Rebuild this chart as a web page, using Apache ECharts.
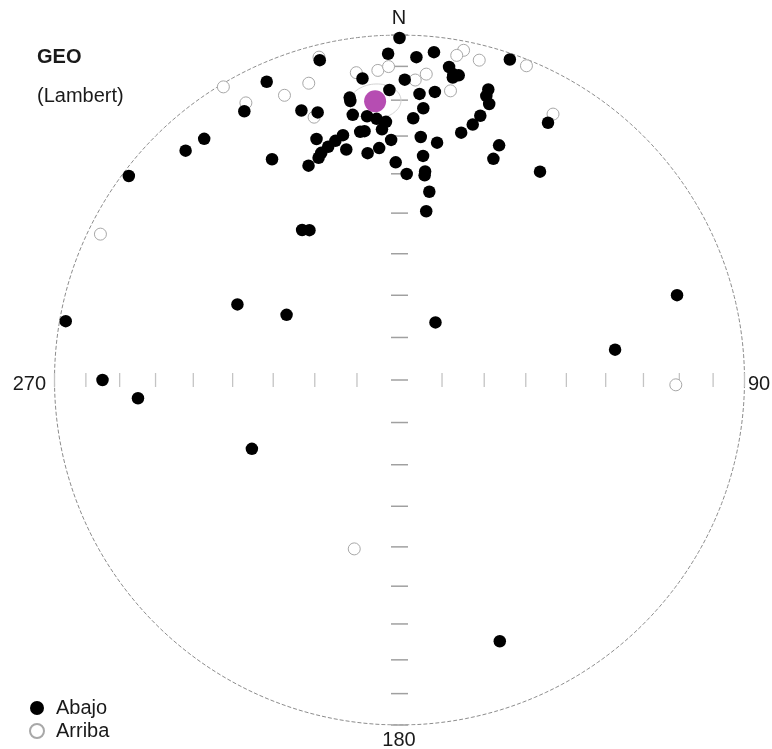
<!DOCTYPE html>
<html>
<head>
<meta charset="utf-8">
<title>GEO (Lambert)</title>
<script src="https://cdn.jsdelivr.net/npm/echarts@6/dist/echarts.min.js"></script>
<style>
  html, body { margin: 0; padding: 0; background: #fff; }
  #chart { width: 772px; height: 749px; }
</style>
</head>
<body>
<div id="chart"></div>
<script>
// Paleomagnetic directions, geographic coordinates (declination / inclination, degrees)
// Lower hemisphere (positive inclination)
const abajoDec = [0, 358, 3, 6, 346, 19, 9, 10, 11, 10, 353, 1, 7, 4, 358, 350, 350, 340, 343, 350,
  353, 355, 357, 356, 352, 351, 5, 3, 17, 17, 18, 17, 16, 14, 341, 347, 345, 343, 341, 340,
  337, 347, 352, 355, 358, 5, 9, 6, 359, 2, 7, 7, 9, 9, 23, 23, 34, 30, 336, 330,
  321, 317, 330, 307, 327, 329, 280, 270, 266, 295, 300, 245, 32, 82, 73, 159];
const abajoInc = [1, 6, 7, 5, 5, 2, 9, 11, 11, 12, 13, 14, 17, 18, 17, 18, 19, 18, 20, 23,
  24, 25, 26, 28, 28, 28, 22, 25, 13, 15, 17, 21, 24, 27, 27, 28, 29, 30, 31, 32,
  33, 32, 34, 33, 31, 30, 31, 35, 37, 40, 39, 40, 44, 49, 27, 31, 28, 15, 6, 11,
  11, 10, 27, 2, 47, 48, 2, 15, 25, 47, 59, 51, 74, 37, 17, 20];
// Upper hemisphere (negative inclination)
const arribaDec = [11, 14, 10, 22, 352, 356, 358, 5, 3, 10, 343, 338, 329, 331, 346, 342, 30, 296, 91, 195];
const arribaInc = [-3, -5, -5, -2, -11, -11, -10, -12, -14, -16, -11, -12, -1, -9, -4, -21, -12, -4, -21, -48];
// Mean direction and its cone of confidence
const meanDec = 355;
const meanInc = 20;
const alpha95 = 5;
// Reference marks along the N-S and E-W diameters (plunge, degrees)
const tickPlunges = [0, 10, 20, 30, 40, 50, 60, 70, 80];
const compassLabels = ['N', '90', '180', '270'];

const RAD = Math.PI / 180;
// Lambert equal-area projection onto the unit circle (x = east, y = north)
function project(dec, inc) {
  const p = Math.abs(inc) * RAD;
  const r = Math.SQRT2 * Math.sin((Math.PI / 2 - p) / 2);
  return [r * Math.sin(dec * RAD), r * Math.cos(dec * RAD)];
}

const abajoPts = abajoDec.map((d, i) => project(d, abajoInc[i]));
const arribaPts = arribaDec.map((d, i) => project(d, arribaInc[i]));
const meanPt = [project(meanDec, meanInc)];

// Primitive circle
const rim = [];
for (let a = 0; a <= 360; a += 1) rim.push(project(a, 0));

// Small circle of radius alpha95 around the mean direction
function smallCircle(dec, inc, a) {
  const d = dec * RAD, i = inc * RAD, ar = a * RAD;
  const m = [Math.cos(i) * Math.cos(d), Math.cos(i) * Math.sin(d), Math.sin(i)];
  const u = [-Math.sin(i) * Math.cos(d), -Math.sin(i) * Math.sin(d), Math.cos(i)];
  const v = [-Math.sin(d), Math.cos(d), 0];
  const out = [];
  for (let t = 0; t <= 360; t += 5) {
    const c = Math.cos(t * RAD), s = Math.sin(t * RAD);
    const x = Math.cos(ar) * m[0] + Math.sin(ar) * (c * u[0] + s * v[0]);
    const y = Math.cos(ar) * m[1] + Math.sin(ar) * (c * u[1] + s * v[1]);
    const z = Math.cos(ar) * m[2] + Math.sin(ar) * (c * u[2] + s * v[2]);
    const inc2 = Math.asin(Math.max(-1, Math.min(1, z))) / RAD;
    const dec2 = Math.atan2(y, x) / RAD;
    out.push(project(dec2, inc2));
  }
  return out;
}
const cone = smallCircle(meanDec, meanInc, alpha95);

// Tick positions on the diameters
const nsTicks = [[0, 0]];
const ewTicks = [];
tickPlunges.forEach(p => {
  const r = project(0, p)[1];
  nsTicks.push([0, r], [0, -r]);
  ewTicks.push([r, 0], [-r, 0]);
});

const FONT = 'Arial, "Liberation Sans", sans-serif';
const TXT = '#1a1a1a';

const chart = echarts.init(document.getElementById('chart'), null, { renderer: 'canvas' });
chart.setOption({
  animation: false,
  backgroundColor: '#fff',
  grid: { left: 54.5, top: 35, width: 690, height: 690 },
  xAxis: { type: 'value', min: -1, max: 1, show: false },
  yAxis: { type: 'value', min: -1, max: 1, show: false },
  legend: {
    data: ['Abajo', 'Arriba'],
    orient: 'vertical',
    left: 24,
    top: 693,
    itemWidth: 14,
    itemHeight: 14,
    itemGap: 3,
    icon: 'circle',
    selectedMode: false,
    textStyle: { fontFamily: FONT, fontSize: 20, color: TXT, lineHeight: 20, padding: [0, 0, 0, 7] }
  },
  graphic: [
    { type: 'text', left: 37, top: 47, style: { text: 'GEO', font: 'bold 20px ' + FONT, fill: TXT } },
    { type: 'text', left: 37, top: 86, style: { text: '(Lambert)', font: '20px ' + FONT, fill: TXT } },
    { type: 'text', x: 399, y: 18, style: { text: compassLabels[0], font: '20px ' + FONT, fill: TXT, align: 'center', verticalAlign: 'middle' } },
    { type: 'text', x: 748, y: 384, style: { text: compassLabels[1], font: '20px ' + FONT, fill: TXT, align: 'left', verticalAlign: 'middle' } },
    { type: 'text', x: 399, y: 740, style: { text: compassLabels[2], font: '20px ' + FONT, fill: TXT, align: 'center', verticalAlign: 'middle' } },
    { type: 'text', x: 46, y: 384, style: { text: compassLabels[3], font: '20px ' + FONT, fill: TXT, align: 'right', verticalAlign: 'middle' } }
  ],
  series: [
    {
      type: 'line', data: rim, showSymbol: false, silent: true, z: 1,
      lineStyle: { color: '#8c8c8c', width: 1, type: [4, 2] }
    },
    {
      type: 'scatter', data: ewTicks, symbol: 'rect', symbolSize: [1.3, 14], silent: true, z: 1,
      itemStyle: { color: '#c4c4c4', opacity: 1 }
    },
    {
      type: 'scatter', data: nsTicks, symbol: 'rect', symbolSize: [17, 1.5], silent: true, z: 1,
      itemStyle: { color: '#a0a0a0', opacity: 1 }
    },
    {
      type: 'line', data: cone, showSymbol: false, silent: true, z: 2,
      lineStyle: { color: '#d4d4d4', width: 1 }
    },
    {
      name: 'Arriba', type: 'scatter', data: arribaPts, symbol: 'circle', symbolSize: 12, z: 3,
      itemStyle: { color: '#ffffff', borderColor: '#a8a8a8', borderWidth: 1, opacity: 1 }
    },
    {
      name: 'Abajo', type: 'scatter', data: abajoPts, symbol: 'circle', symbolSize: 12.5, z: 4,
      itemStyle: { color: '#000000', opacity: 1 }
    },
    {
      type: 'scatter', data: meanPt, symbol: 'circle', symbolSize: 22, z: 5, silent: true,
      itemStyle: { color: '#b64db2', opacity: 1 }
    }
  ]
});
</script>
</body>
</html>
